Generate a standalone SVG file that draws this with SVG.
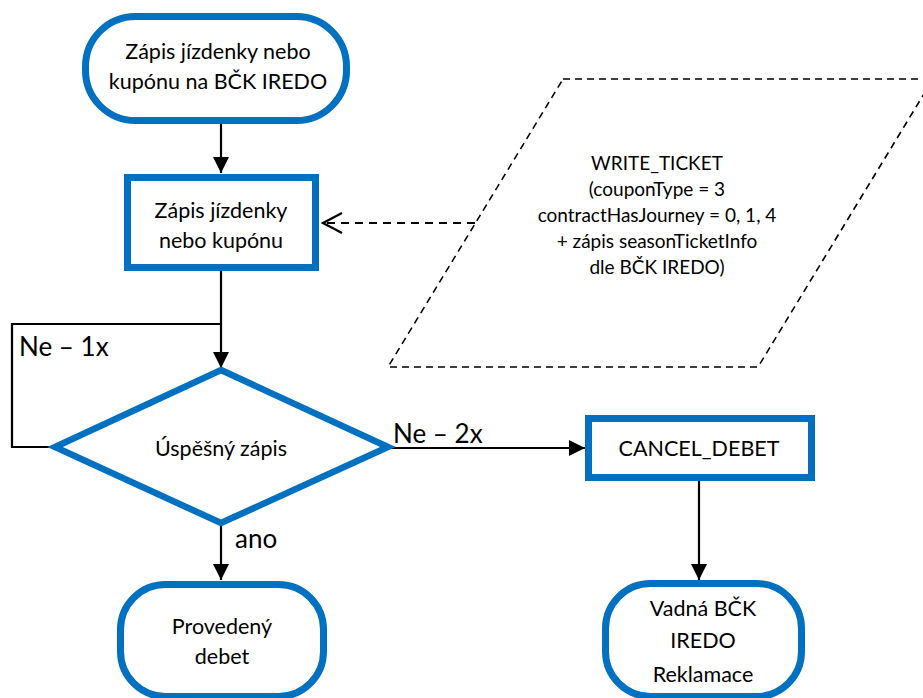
<svg xmlns="http://www.w3.org/2000/svg" width="923" height="698" viewBox="0 0 923 698">
<style>
.node{fill:#fff;stroke:#0070C0;stroke-width:7}
.dia{fill:#fff;stroke:#0070C0;stroke-width:6.5;stroke-linejoin:miter}
.t{font-family:Lato,"Liberation Sans",sans-serif;font-size:21.5px;fill:#000;text-anchor:middle}
.s{font-family:Lato,"Liberation Sans",sans-serif;font-size:19px;fill:#000;text-anchor:middle}
.lbl{font-family:Lato,"Liberation Sans",sans-serif;font-size:26px;fill:#000}
.ln{fill:none;stroke:#000;stroke-width:2.2}
.dash{fill:none;stroke:#000;stroke-width:2;stroke-dasharray:8 6}
.para{fill:none;stroke:#000;stroke-width:1.6;stroke-dasharray:7 5}
</style>
<defs>
<marker id="ah" markerUnits="userSpaceOnUse" markerWidth="17" markerHeight="16" refX="16" refY="8" orient="auto">
<path d="M0,0 L16,8 L0,16 z" fill="#000"/>
</marker>
<marker id="oh" markerUnits="userSpaceOnUse" markerWidth="22" markerHeight="24" refX="20" refY="11" orient="auto">
<path d="M1,1 L20,11 L1,21" fill="none" stroke="#000" stroke-width="2.2" stroke-dasharray="none"/>
</marker>
</defs>
<g id="connectors">
<line class="ln" x1="221" y1="124" x2="221" y2="173" marker-end="url(#ah)"/>
<line class="ln" x1="221" y1="271" x2="221" y2="368" marker-end="url(#ah)"/>
<polyline class="ln" points="55,447 12,447 12,324 221,324"/>
<line class="ln" x1="388" y1="448" x2="585" y2="448" marker-end="url(#ah)"/>
<line class="ln" x1="221" y1="523" x2="221" y2="580" marker-end="url(#ah)"/>
<line class="ln" x1="699" y1="481" x2="699" y2="580" marker-end="url(#ah)"/>
<line class="dash" x1="475" y1="223" x2="323" y2="223" marker-end="url(#oh)"/>
<text class="lbl" x="19" y="356">Ne – 1x</text>
<text class="lbl" x="393" y="443">Ne – 2x</text>
<text class="lbl" x="235" y="548">ano</text>
</g>
<g id="start">
<rect class="node" x="85.5" y="16.5" width="261" height="104" rx="50" ry="50"/>
<text class="t" x="218" y="59">Zápis jízdenky nebo</text>
<text class="t" x="218" y="89">kupónu na BČK IREDO</text>
</g>
<g id="write">
<rect class="node" x="127.5" y="177.5" width="188" height="90"/>
<text class="t" x="221" y="218">Zápis jízdenky</text>
<text class="t" x="221" y="248">nebo kupónu</text>
</g>
<g id="data">
<polygon class="para" points="563,79 933,79 758,367 388,367"/>
<text class="s" x="657" y="170">WRITE_TICKET</text>
<text class="s" x="657" y="196">(couponType = 3</text>
<text class="s" x="657" y="222">contractHasJourney = 0, 1, 4</text>
<text class="s" x="657" y="248">+ zápis seasonTicketInfo</text>
<text class="s" x="657" y="274">dle BČK IREDO)</text>
</g>
<g id="decision">
<polygon class="dia" points="221,370 388,447 221,523 55,447"/>
<text class="t" x="221" y="456">Úspěšný zápis</text>
</g>
<g id="cancel">
<rect class="node" x="588.5" y="418.5" width="223" height="59"/>
<text class="t" x="699" y="456">CANCEL_DEBET</text>
</g>
<g id="done">
<rect class="node" x="120.5" y="584.5" width="203" height="112" rx="45" ry="45"/>
<text class="t" x="222" y="634">Provedený</text>
<text class="t" x="222" y="664">debet</text>
</g>
<g id="fail">
<rect class="node" x="605.5" y="583.5" width="196" height="113" rx="45" ry="45"/>
<text class="t" x="703" y="616">Vadná BČK</text>
<text class="t" x="703" y="648">IREDO</text>
<text class="t" x="703" y="682">Reklamace</text>
</g>
</svg>
